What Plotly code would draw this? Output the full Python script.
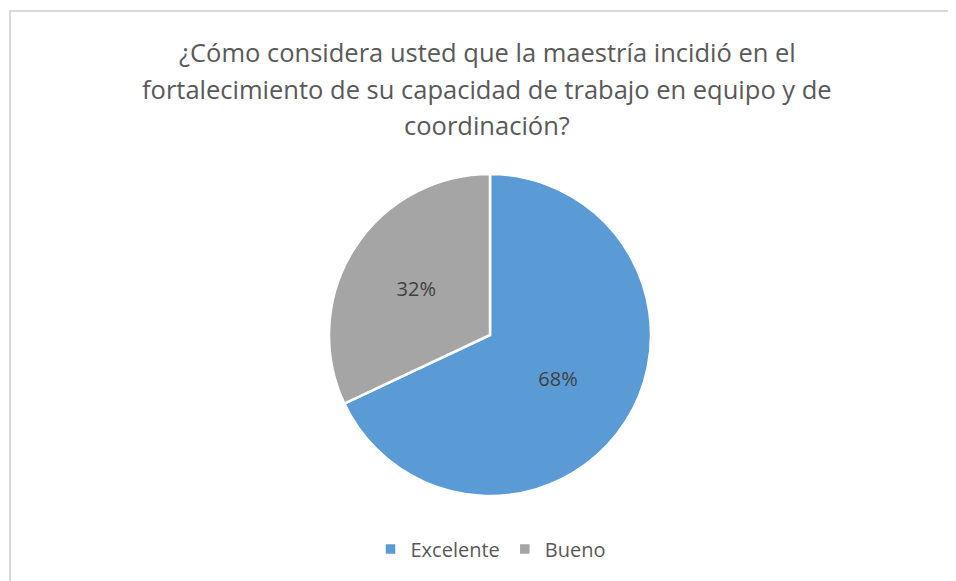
import plotly.graph_objects as go

categories = ["Excelente", "Bueno"]
values = [68, 32]
colors = ["#5B9BD5", "#A5A5A5"]
title_lines = [
    "¿Cómo considera usted que la maestría incidió en el",
    "fortalecimiento de su capacidad de trabajo en equipo y de",
    "coordinación?",
]

W, H = 956, 581
OFF = 8  # page body margin
cx, cy, r = 490 - OFF, 335 - OFF, 161

fig = go.Figure(go.Pie(
    labels=categories,
    values=values,
    marker=dict(colors=colors, line=dict(color="white", width=2.5)),
    sort=False,
    direction="clockwise",
    rotation=0,
    textinfo="percent",
    texttemplate="%{percent:.0%}",
    textposition="inside",
    insidetextorientation="horizontal",
    textfont=dict(family="Open Sans", size=20, color="#404040"),
    domain=dict(x=[(cx - r) / W, (cx + r) / W], y=[1 - (cy + r) / H, 1 - (cy - r) / H]),
    hoverinfo="label+percent",
))

title_y = [52, 89, 125]
for line, yy in zip(title_lines, title_y):
    fig.add_annotation(text=line, x=(487 - OFF) / W, y=1 - (yy - OFF) / H, xref="paper", yref="paper",
                       showarrow=False, xanchor="center", yanchor="middle",
                       font=dict(family="Open Sans", size=25.5, color="#595959"))

fig.add_shape(type="rect", xref="paper", yref="paper",
              x0=(10 - OFF) / W, x1=1.2, y0=-0.2, y1=1 - (11 - OFF) / H,
              line=dict(color="#D9D9D9", width=2), fillcolor="rgba(0,0,0,0)", layer="below")

fig.update_layout(
    width=W, height=H,
    margin=dict(l=0, r=0, t=0, b=0),
    paper_bgcolor="white",
    plot_bgcolor="white",
    showlegend=True,
    legend=dict(orientation="h", x=(491 - OFF) / W, xanchor="center", y=1 - (549 - OFF) / H,
                yanchor="middle",
                font=dict(family="Open Sans", size=20, color="#595959"), itemwidth=30,
                traceorder="normal"),
)

fig.write_html("out.html")
